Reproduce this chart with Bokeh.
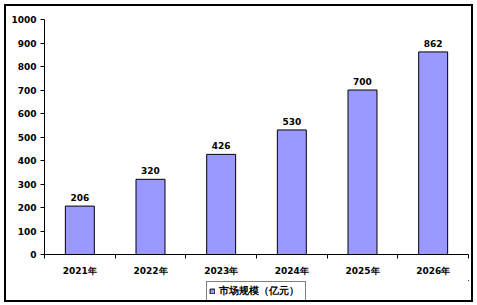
from bokeh.plotting import figure
from bokeh.layouts import column
from bokeh.models import ColumnDataSource, FixedTicker, LabelSet, Legend, LegendItem, Range1d
from bokeh.core.properties import value
from bokeh.embed import file_html
from bokeh.resources import INLINE

years = ["2021年", "2022年", "2023年", "2024年", "2025年", "2026年"]
values = [206, 320, 426, 530, 700, 862]
series_name = "市场规模（亿元）"
y_ticks = [0, 100, 200, 300, 400, 500, 600, 700, 800, 900, 1000]

xs = [i + 0.5 for i in range(len(years))]
src = ColumnDataSource(dict(x=xs, top=values, lab=[str(v) for v in values]))

FONT = "DejaVu Sans"
BAR_FILL = "#9999FF"

p = figure(width=465, height=274, output_backend="svg", toolbar_location=None,
           x_range=Range1d(0, len(years)), y_range=Range1d(0, 1000))
p.min_border_left = 38
p.min_border_right = 3
p.min_border_top = 13
p.min_border_bottom = 26
p.outline_line_color = None
p.grid.visible = False
p.background_fill_color = "white"
p.border_fill_color = "white"

r = p.vbar(x="x", top="top", width=0.41, source=src, fill_color=BAR_FILL,
           line_color="black", line_width=1)

p.add_layout(LabelSet(x="x", y="top", text="lab", source=src, text_align="center",
                      text_baseline="bottom", y_offset=5, text_font=value(FONT),
                      text_font_size="9px", text_font_style="bold", text_color="black"))

p.xaxis.ticker = FixedTicker(ticks=xs, minor_ticks=list(range(len(years) + 1)))
p.xaxis.major_label_overrides = {x: y for x, y in zip(xs, years)}
p.xaxis.major_tick_out = 0
p.xaxis.major_tick_in = 0
p.xaxis.minor_tick_out = 4
p.xaxis.minor_tick_in = 0
p.xaxis.major_label_standoff = 7

p.yaxis.ticker = FixedTicker(ticks=y_ticks)
p.yaxis.major_tick_out = 4
p.yaxis.major_tick_in = 0
p.yaxis.minor_tick_line_color = None
p.yaxis.major_label_standoff = 4

for ax in (p.xaxis, p.yaxis):
    ax.axis_line_color = "black"
    ax.axis_line_width = 1
    ax.major_tick_line_color = "black"
    ax.major_label_text_font = FONT
    ax.major_label_text_font_size = "9px"
    ax.major_label_text_font_style = "bold"
    ax.major_label_text_color = "black"
p.xaxis.minor_tick_line_color = "black"

# legend strip below the chart (its bars lie far outside its visible ranges)
p2 = figure(width=465, height=20, output_backend="svg", toolbar_location=None,
            x_range=Range1d(-20, -19), y_range=Range1d(-2000, -1999), min_border=0)
p2.outline_line_color = None
p2.axis.visible = False
p2.grid.visible = False
p2.border_fill_color = "white"
p2.background_fill_color = "white"
r2 = p2.vbar(x="x", top="top", width=0.41, source=src, fill_color=BAR_FILL,
             line_color="black", line_width=1)

legend = Legend(items=[LegendItem(label=series_name, renderers=[r2])],
                location="top_center", orientation="horizontal",
                label_text_font=FONT, label_text_font_size="10px",
                label_text_font_style="bold", label_text_color="black",
                glyph_width=6, glyph_height=6, label_standoff=4, padding=2,
                spacing=0, margin=1, border_line_color="black", border_line_width=1.5,
                label_height=12, label_width=84, background_fill_color="white")
p2.add_layout(legend)

layout = column(p, p2, spacing=0)
layout.styles = {"margin": "4px 0 0 4px", "border": "2px solid black", "background": "white"}

open("out.html", "w").write(file_html(layout, INLINE))
